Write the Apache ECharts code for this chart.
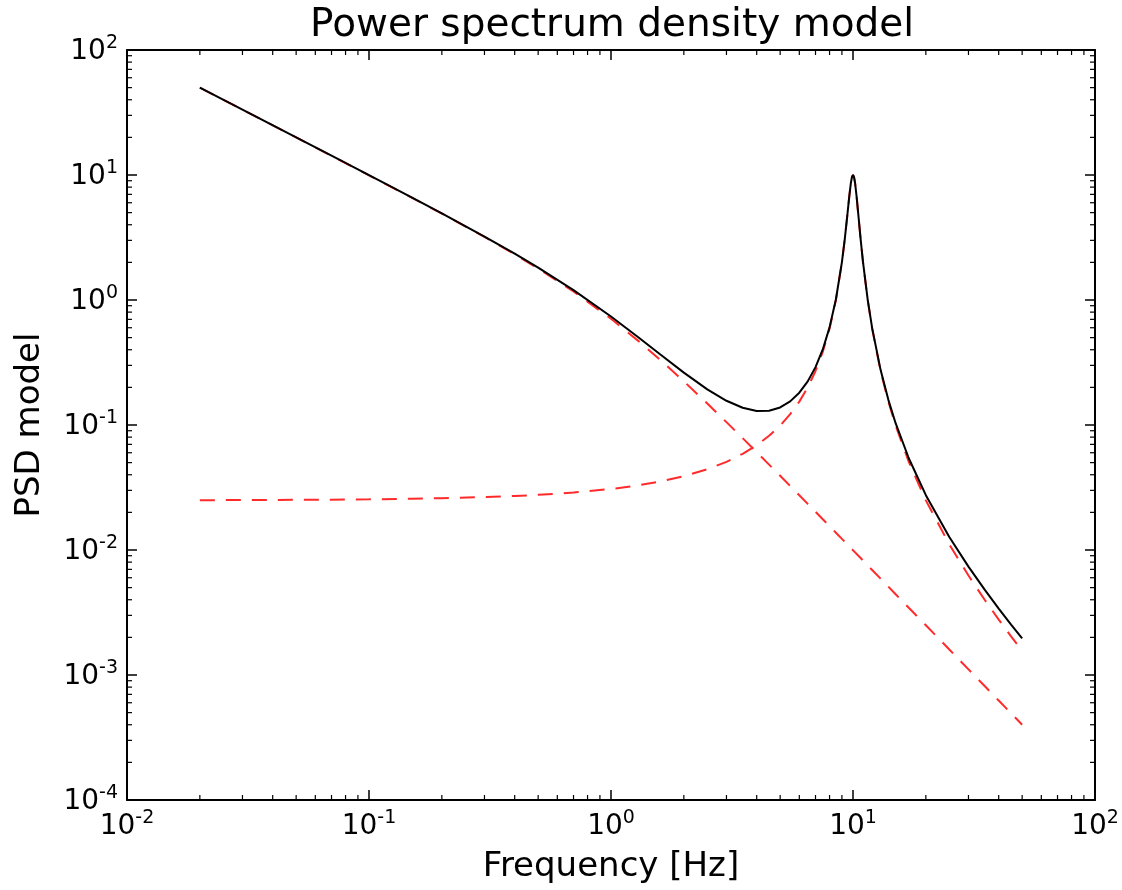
<!DOCTYPE html>
<html>
<head>
<meta charset="utf-8">
<script src="https://cdn.jsdelivr.net/npm/echarts@6/dist/echarts.min.js"></script>
<style>
html,body{margin:0;padding:0;background:#fff;}
#chart{width:1122px;height:890px;}
</style>
</head>
<body>
<div id="chart"></div>
<script>
// Frequencies [Hz] sampled along the curves
const freq = [0.02, 0.03, 0.05, 0.07, 0.1, 0.15, 0.2, 0.3, 0.4, 0.5, 0.7, 1, 1.3, 1.6, 2, 2.5, 3, 3.5, 4, 4.5,
  5, 5.5, 6, 6.5, 7, 7.5, 8, 8.5, 9, 9.25, 9.5, 9.65, 9.8, 9.9, 10, 10.1, 10.2, 10.35, 10.5, 10.75,
  11, 11.5, 12, 13, 14, 15, 17, 20, 25, 30, 35, 40, 45, 50];

// Red dashed component 1 (bending power law)
const powerLaw = [49.99, 33.32, 19.98, 14.25, 9.950, 6.593, 4.903, 3.193, 2.321, 1.789, 1.170, 0.7071, 0.4690, 0.3312, 0.2236, 0.1486, 0.1054, 0.07849, 0.06063, 0.04821,
  0.03922, 0.03252, 0.02740, 0.02339, 0.02020, 0.01762, 0.01550, 0.01375, 0.01227, 0.01162, 0.01102, 0.01068, 0.01036, 0.01015, 0.00995, 0.00976, 0.00957, 0.00929, 0.00903, 0.00862,
  0.00823, 0.00753, 0.00692, 0.00590, 0.00509, 0.00443, 0.00345, 0.00250, 0.00160, 0.00111, 0.000816, 0.000625, 0.000494, 0.000400];

// Red dashed component 2 (Lorentzian peak at 10 Hz)
const lorentz = [0.02504, 0.02509, 0.02519, 0.02529, 0.02544, 0.02570, 0.02596, 0.02650, 0.02705, 0.02762, 0.02882, 0.03077, 0.03292, 0.03531, 0.03891, 0.04425, 0.05076, 0.05882, 0.06897, 0.08197,
  0.09901, 0.1220, 0.1538, 0.2000, 0.2703, 0.3846, 0.5882, 1.000, 2.000, 3.077, 5.000, 6.711, 8.621, 9.615, 10.00, 9.615, 8.621, 6.711, 5.000, 3.077,
  2.000, 1.000, 0.5882, 0.2703, 0.1538, 0.09901, 0.05076, 0.02494, 0.01110, 0.006246, 0.003998, 0.002777, 0.002040, 0.001562];

// Black solid total model
const total = [50.02, 33.34, 20.00, 14.28, 9.975, 6.619, 4.929, 3.220, 2.348, 1.817, 1.199, 0.7379, 0.5019, 0.3665, 0.2625, 0.1928, 0.1562, 0.1373, 0.1296, 0.1302,
  0.1382, 0.1545, 0.1813, 0.2234, 0.2905, 0.4022, 0.6037, 1.014, 2.012, 3.089, 5.011, 6.722, 8.631, 9.626, 10.01, 9.625, 8.630, 6.721, 5.009, 3.086,
  2.008, 1.008, 0.5952, 0.2762, 0.1589, 0.1034, 0.05421, 0.02744, 0.01270, 0.007357, 0.004814, 0.003402, 0.002534, 0.001962];

// Axis decades and minor tick multipliers
const xDecades = [0.01, 0.1, 1, 10];
const yDecades = [0.0001, 0.001, 0.01, 0.1, 1, 10];
const minorMultipliers = [2, 3, 4, 5, 6, 7, 8, 9];

const titleText = 'Power spectrum density model';
const xName = 'Frequency [Hz]';
const yName = 'PSD model';

const FONT = 'DejaVu Sans';
const pair = (vals) => freq.map((f, i) => [f, vals[i]]);
const xMinor = [];
xDecades.forEach(d => minorMultipliers.forEach(m => xMinor.push([d * m, 1])));
const yMinor = [];
yDecades.forEach(d => minorMultipliers.forEach(m => yMinor.push([1, d * m])));

const expLabel = (v) => '{b|10}{s|' + Math.round(Math.log10(v)) + '}';
const richLabel = {
  b: { fontSize: 28, fontFamily: FONT, color: '#000', lineHeight: 32, verticalAlign: 'bottom' },
  s: { fontSize: 19, fontFamily: FONT, color: '#000', lineHeight: 19, verticalAlign: 'top' }
};

const axisCommon = {
  type: 'log', logBase: 10,
  axisLine: { show: true, onZero: false, lineStyle: { color: '#000', width: 2 } },
  axisTick: { show: true, inside: true, length: 10, lineStyle: { color: '#000', width: 1.5 } },
  splitLine: { show: false },
  minorTick: { show: false },
  minorSplitLine: { show: false }
};

const chart = echarts.init(document.getElementById('chart'), null, { renderer: 'canvas' });

function renderXMinor(params, api) {
  const x = api.coord([api.value(0), api.value(1)])[0];
  const cs = params.coordSys;
  return { type: 'group', children: [
    { type: 'line', shape: { x1: x, y1: cs.y + cs.height, x2: x, y2: cs.y + cs.height - 5 }, style: { stroke: '#000', lineWidth: 1.2 } },
    { type: 'line', shape: { x1: x, y1: cs.y, x2: x, y2: cs.y + 5 }, style: { stroke: '#000', lineWidth: 1.2 } }
  ]};
}
function renderYMinor(params, api) {
  const y = api.coord([api.value(0), api.value(1)])[1];
  const cs = params.coordSys;
  return { type: 'group', children: [
    { type: 'line', shape: { x1: cs.x, y1: y, x2: cs.x + 5, y2: y }, style: { stroke: '#000', lineWidth: 1.2 } },
    { type: 'line', shape: { x1: cs.x + cs.width, y1: y, x2: cs.x + cs.width - 5, y2: y }, style: { stroke: '#000', lineWidth: 1.2 } }
  ]};
}

chart.setOption({
  animation: false,
  backgroundColor: '#fff',
  title: {
    text: titleText, left: 305, top: 1,
    textStyle: { fontFamily: FONT, fontSize: 39, fontWeight: 'normal', color: '#000' }
  },
  grid: { left: 127, right: 27, top: 50, bottom: 90, containLabel: false },
  xAxis: [
    Object.assign({}, axisCommon, {
      min: 0.01, max: 100, interval: 1, position: 'bottom',
      name: xName, nameLocation: 'middle', nameGap: 50,
      nameTextStyle: { fontFamily: FONT, fontSize: 34, color: '#000' },
      axisLabel: { show: true, margin: 9, formatter: expLabel, rich: richLabel }
    }),
    Object.assign({}, axisCommon, {
      min: 0.01, max: 100, interval: 1, position: 'top',
      axisLabel: { show: false }
    })
  ],
  yAxis: [
    Object.assign({}, axisCommon, {
      min: 0.0001, max: 100, interval: 1, position: 'left',
      name: yName, nameLocation: 'middle', nameGap: 80, nameRotate: 90,
      nameTextStyle: { fontFamily: FONT, fontSize: 34, color: '#000' },
      axisLabel: { show: true, margin: 9, formatter: expLabel, rich: richLabel }
    }),
    Object.assign({}, axisCommon, {
      min: 0.0001, max: 100, interval: 1, position: 'right',
      axisLabel: { show: false }
    })
  ],
  series: [
    {
      name: 'power law', type: 'line', data: pair(powerLaw), showSymbol: false, smooth: false,
      lineStyle: { color: '#ff2a2a', width: 2, type: [15, 11] }, z: 2, silent: true
    },
    {
      name: 'lorentzian', type: 'line', data: pair(lorentz), showSymbol: false, smooth: false,
      lineStyle: { color: '#ff2a2a', width: 2, type: [15, 11] }, z: 2, silent: true
    },
    {
      name: 'total', type: 'line', data: pair(total), showSymbol: false, smooth: false,
      lineStyle: { color: '#000', width: 2 }, z: 3, silent: true
    },
    { type: 'custom', data: xMinor, renderItem: renderXMinor, silent: true, clip: false, z: 5 },
    { type: 'custom', data: yMinor, renderItem: renderYMinor, silent: true, clip: false, z: 5 }
  ]
});
</script>
</body>
</html>
